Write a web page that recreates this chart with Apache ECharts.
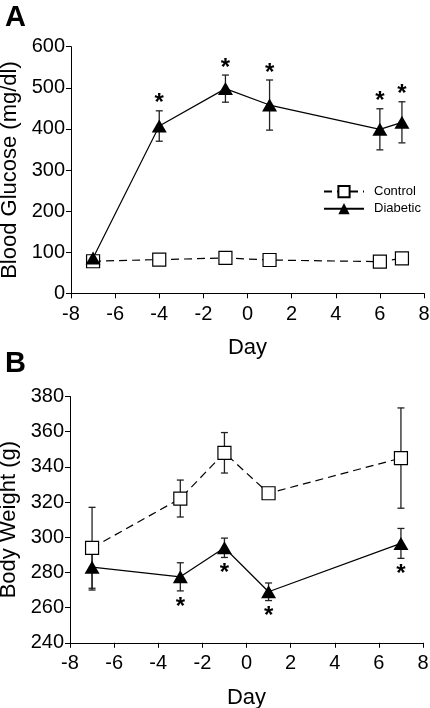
<!DOCTYPE html>
<html><head><meta charset="utf-8">
<script src="https://cdn.jsdelivr.net/npm/echarts@6/dist/echarts.min.js"></script>
<style>html,body{margin:0;padding:0;background:#fff}#c{width:430px;height:708px}</style>
</head><body><div id="c"></div>
<script>
// Panel A: Blood glucose
const daysA = [-7, -4, -1, 1, 6, 7];
const controlA = [78, 82, 86, 81, 77, 85];
const controlErrA = [4, 4, 4, 4, 4, 4];
const diabeticA = [86, 407, 498, 458, 399, 416];
const diabeticErrA = [6, 37, 33, 61, 50, 50];
const starsA = [0, 1, 1, 1, 1, 1];

// Panel B: Body weight
const daysB = [-7, -3, -1, 1, 7];
const controlB = [294, 322, 348, 325, 345];
const controlErrB = [23, 10.5, 11.5, 2, 28.5];
const diabeticB = [283, 277.5, 294, 269, 296.5];
const diabeticErrB = [13, 8, 5.5, 5, 8.5];
const starsB = [0, 1, 1, 1, 1];

const FONT = 'Liberation Sans';
const chart = echarts.init(document.getElementById('c'), null, {renderer: 'canvas'});

function pairs(xs, ys) { return xs.map((x, i) => [x, ys[i]]); }
function triples(xs, ys, es) { return xs.map((x, i) => [x, ys[i], es[i]]); }

function errItem(params, api) {
  const x = api.value(0), y = api.value(1), e = api.value(2);
  const t = api.coord([x, y + e]), b = api.coord([x, y - e]);
  const w = 3.5;
  const st = {stroke: '#222', lineWidth: 1.3};
  return {type: 'group', children: [
    {type: 'line', shape: {x1: t[0], y1: t[1], x2: b[0], y2: b[1]}, style: st},
    {type: 'line', shape: {x1: t[0] - w, y1: t[1], x2: t[0] + w, y2: t[1]}, style: st},
    {type: 'line', shape: {x1: b[0] - w, y1: b[1], x2: b[0] + w, y2: b[1]}, style: st}
  ]};
}
function starItem(params, api) {
  const x = api.value(0), y = api.value(1), e = api.value(2), dir = api.value(3);
  const p = api.coord([x, y + dir * e]);
  const gap = dir > 0 ? -12 : 11;
  return {type: 'text', x: p[0], y: p[1] + gap + 5,
    style: {text: '*', font: 'bold 24px "' + FONT + '"', fill: '#000', align: 'center', verticalAlign: 'middle'}};
}
function starData(xs, ys, es, flags, dir) {
  const out = [];
  xs.forEach((x, i) => { if (flags[i]) out.push([x, ys[i], es[i], dir]); });
  return out;
}

function xAxis(idx) {
  return {type: 'value', gridIndex: idx, min: -8, max: 8, interval: 2,
    name: 'Day', nameLocation: 'middle', nameGap: 44,
    nameTextStyle: {fontSize: 22, color: '#000', fontFamily: FONT},
    axisLine: {show: true, onZero: false, lineStyle: {color: '#000', width: 1}},
    axisTick: {show: true, inside: false, length: 5, lineStyle: {color: '#000'}},
    axisLabel: {fontSize: 20, color: '#000', margin: 11, fontFamily: FONT},
    splitLine: {show: false}};
}
function yAxis(idx, min, max, interval, name) {
  return {type: 'value', gridIndex: idx, min: min, max: max, interval: interval,
    name: name, nameLocation: 'middle', nameGap: 49,
    nameTextStyle: {fontSize: 22, color: '#000', fontFamily: FONT},
    axisLine: {show: true, onZero: false, lineStyle: {color: '#000', width: 1}},
    axisTick: {show: true, inside: false, length: 5, lineStyle: {color: '#000'}},
    axisLabel: {fontSize: 20, color: '#000', margin: 6, fontFamily: FONT},
    splitLine: {show: false}};
}

const ctrlStyle = {
  type: 'line', symbol: 'rect', symbolSize: 13,
  itemStyle: {color: '#fff', borderColor: '#000', borderWidth: 1.2},
  lineStyle: {color: '#000', width: 1.2, type: [8, 5]}
};
const diabStyle = {
  type: 'line', symbol: 'triangle', symbolSize: [15, 13],
  itemStyle: {color: '#000', borderColor: '#000', borderWidth: 0},
  lineStyle: {color: '#000', width: 1.2, type: 'solid'}
};

const option = {
  animation: false,
  textStyle: {fontFamily: FONT},
  title: [
    {text: 'A', left: 5, top: 3, padding: 0, textStyle: {fontSize: 29, fontWeight: 'bold', color: '#000', fontFamily: FONT}},
    {text: 'B', left: 5, top: 349, padding: 0, textStyle: {fontSize: 29, fontWeight: 'bold', color: '#000', fontFamily: FONT}}
  ],
  legend: {
    data: ['Control', 'Diabetic'], orient: 'vertical', left: 318, top: 180,
    itemWidth: 40, itemHeight: 14, itemGap: 4, selectedMode: false,
    textStyle: {fontSize: 13, color: '#000', fontFamily: FONT, padding: [0, 0, 0, 5]}
  },
  grid: [
    {left: 71, top: 46.7, width: 353, height: 246.6, containLabel: false, outerBoundsMode: 'none'},
    {left: 70, top: 396.5, width: 353, height: 246.3, containLabel: false, outerBoundsMode: 'none'}
  ],
  xAxis: [xAxis(0), xAxis(1)],
  yAxis: [yAxis(0, 0, 600, 100, 'Blood Glucose (mg/dl)'), yAxis(1, 240, 380, 20, 'Body Weight (g)')],
  series: [
    {type: 'custom', name: 'ctrlErrA', xAxisIndex: 0, yAxisIndex: 0, renderItem: errItem, data: triples(daysA, controlA, controlErrA)},
    Object.assign({name: 'Control', xAxisIndex: 0, yAxisIndex: 0, data: pairs(daysA, controlA)}, ctrlStyle),
    {type: 'custom', name: 'diabErrA', xAxisIndex: 0, yAxisIndex: 0, renderItem: errItem, data: triples(daysA, diabeticA, diabeticErrA)},
    Object.assign({name: 'Diabetic', xAxisIndex: 0, yAxisIndex: 0, data: pairs(daysA, diabeticA)}, diabStyle),
    {type: 'custom', name: 'starsA', xAxisIndex: 0, yAxisIndex: 0, renderItem: starItem, data: starData(daysA, diabeticA, diabeticErrA, starsA, 1)},

    {type: 'custom', name: 'ctrlErrB', xAxisIndex: 1, yAxisIndex: 1, renderItem: errItem, data: triples(daysB, controlB, controlErrB)},
    Object.assign({name: 'Control', xAxisIndex: 1, yAxisIndex: 1, data: pairs(daysB, controlB)}, ctrlStyle),
    {type: 'custom', name: 'diabErrB', xAxisIndex: 1, yAxisIndex: 1, renderItem: errItem, data: triples(daysB, diabeticB, diabeticErrB)},
    Object.assign({name: 'Diabetic', xAxisIndex: 1, yAxisIndex: 1, data: pairs(daysB, diabeticB)}, diabStyle),
    {type: 'custom', name: 'starsB', xAxisIndex: 1, yAxisIndex: 1, renderItem: starItem, data: starData(daysB, diabeticB, diabeticErrB, starsB, -1)}
  ]
};
chart.setOption(option);
</script>
</body></html>
